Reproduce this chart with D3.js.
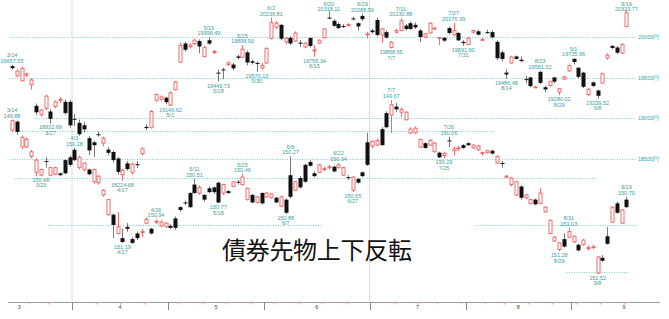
<!DOCTYPE html>
<html>
<head>
<meta charset="utf-8">
<script src="https://cdn.jsdelivr.net/npm/d3@7"></script>
<style>
  body { margin: 0; background: #fff; }
  svg { display: block; }
</style>
</head>
<body>
<div id="chart"></div>
<script>
// trading days, 2017
const dates = [
  '3/14','3/15','3/16','3/17','3/21','3/22','3/23','3/24','3/27','3/28','3/29','3/30','3/31',
  '4/3','4/4','4/5','4/6','4/7','4/10','4/11','4/12','4/13','4/14','4/17','4/18','4/19','4/20','4/21','4/24','4/25','4/26','4/27','4/28',
  '5/1','5/2','5/8','5/9','5/10','5/11','5/12','5/15','5/16','5/17','5/18','5/19','5/22','5/23','5/24','5/25','5/26','5/29','5/30','5/31',
  '6/1','6/2','6/5','6/6','6/7','6/8','6/9','6/12','6/13','6/14','6/15','6/16','6/19','6/20','6/21','6/22','6/23','6/26','6/27','6/28','6/29','6/30',
  '7/3','7/4','7/5','7/6','7/7','7/10','7/11','7/12','7/13','7/14','7/18','7/19','7/20','7/21','7/24','7/25','7/26','7/27','7/28','7/31',
  '8/1','8/2','8/3','8/4','8/7','8/8','8/9','8/10','8/14','8/15','8/16','8/17','8/18','8/21','8/22','8/23','8/24','8/25','8/28','8/29','8/30','8/31',
  '9/1','9/4','9/5','9/6','9/7','9/8','9/11','9/12','9/13','9/14','9/15','9/19'
];

// Nikkei 225 [open, high, low, close]
const nikkei = [
  [19640,19657.55,19600,19615],[19520,19600,19500,19580],[19460,19630,19450,19610],[19530,19560,19505,19545],
  [19410,19490,19350,19470],[19150,19180,19040,19070],[19040,19110,19020,19100],[19120,19290,19100,19270],
  [19080,19110,18932.69,18990],[19140,19220,19120,19200],[19220,19260,19190,19230],[19200,19230,19040,19060],
  [19200,19220,18880,18910],
  [18990,19050,18900,18980],[18940,18980,18780,18800],[18910,18950,18820,18860],[18750,18780,18540,18600],
  [18700,18720,18520,18665],[18800,18830,18770,18797],[18690,18770,18650,18750],[18610,18640,18540,18570],
  [18580,18600,18450,18480],[18500,18520,18300,18335],[18300,18370,18224.68,18355],[18440,18470,18350,18370],
  [18330,18450,18300,18430],[18430,18470,18380,18425],[18560,18640,18540,18620],[18890,18920,18850,18875],
  [18880,19100,18870,19080],[19220,19300,19200,19290],[19230,19280,19210,19260],[19250,19260,19170,19196],
  [19160,19330,19146.62,19310],[19350,19460,19340,19445],[19690,19930,19680,19895],[19920,19940,19820,19843],
  [19880,19920,19860,19900],[19920,19980,19900,19961],[19950,19970,19800,19883],[19760,19890,19750,19869],
  [19960,19998.49,19900,19919],[19810,19840,19790,19820],[19560,19600,19449.73,19553],[19600,19620,19480,19590],
  [19660,19700,19640,19680],[19660,19680,19590,19613],[19760,19780,19720,19742],[19750,19898.93,19740,19850],
  [19810,19830,19650,19686],[19700,19720,19660,19682],[19680,19700,19570.13,19677],[19620,19680,19600,19650],
  [19680,19870,19670,19860],[19980,20239.81,19970,20177],[20120,20200,20100,20170],[20150,20160,19960,19979],
  [19940,20000,19910,19984],[19990,20010,19900,19920],[19950,20070,19940,20050],[19930,19960,19880,19925],
  [19875,19940,19860,19925],[19988,20000,19870,19890],[19830,19900,19756.34,19840],[19925,19970,19910,19960],
  [19990,20110,19980,20100],[20240,20318.11,20220,20230],[20200,20220,20120,20138],[20160,20180,20100,20110],
  [20135,20160,20110,20132],[20140,20170,20130,20155],[20230,20250,20200,20225],[20170,20180,20080,20130],
  [20260,20288.59,20200,20220],[20030,20060,19980,20040],
  [20080,20100,20040,20060],[20210,20240,20010,20025],[20025,20110,19930,20100],[20060,20080,19980,19994],
  [19870,19950,19858.65,19935],[20060,20100,20040,20080],[20080,20230.88,20070,20200],[20140,20160,20080,20098],
  [20170,20190,20090,20099],[20150,20180,20100,20118],[20080,20100,19940,20000],[20000,20050,19980,20040],
  [20050,20180,20040,20170],[20100,20120,20090,20110],[19990,20000,19900,19995],[19990,20000,19940,19955],
  [20110,20130,20030,20050],[20025,20176.39,20010,20079],[20050,20060,19950,19959],[19940,19960,19891.90,19925],
  [19905,20000,19900,19985],[20060,20090,20040,20080],[20070,20090,20020,20029],[19960,19990,19950,19970],
  [20060,20090,20040,20055],[20060,20080,19980,19996],[19940,19960,19720,19738],[19810,19830,19700,19729],
  [19560,19600,19486.48,19537],[19680,19770,19670,19753],[19760,19770,19720,19729],[19720,19760,19690,19702],
  [19480,19520,19430,19470],[19500,19510,19380,19393],[19380,19400,19370,19385],[19570,19581.32,19420,19434],
  [19380,19400,19320,19353],[19400,19460,19390,19452],[19500,19510,19430,19449],[19320,19370,19280.02,19362],
  [19480,19520,19470,19506],[19580,19660,19570,19646],
  [19730,19735.96,19660,19691],[19620,19630,19490,19508],[19560,19570,19370,19385],[19290,19370,19270,19357],
  [19440,19450,19380,19396],[19340,19350,19239.52,19274],[19430,19560,19420,19545],[19740,19800,19720,19776],
  [19890,19900,19850,19865],[19870,19890,19790,19807],[19800,19920,19790,19909],[20130,20329.77,20120,20299]
];

// JGB futures [open, high, low, close], drawn upside down
const bond = [
  [149.89,150.01,149.88,149.99],[150.01,150.04,149.89,149.90],[150.07,150.19,150.05,150.17],[150.09,150.18,150.07,150.17],
  [150.22,150.29,150.20,150.27],[150.31,150.48,150.29,150.44],[150.41,150.48,150.40,150.47],[150.33,150.39,150.28,150.32],
  [150.39,150.48,150.38,150.47],[150.39,150.47,150.38,150.46],[150.47,150.48,150.44,150.45],[150.45,150.46,150.30,150.31],
  [150.36,150.38,150.26,150.28],
  [150.31,150.32,150.18,150.20],[150.28,150.41,150.26,150.39],[150.34,150.43,150.33,150.41],[150.46,150.47,150.40,150.41],
  [150.41,150.56,150.40,150.54],[150.48,150.57,150.47,150.55],[150.63,150.70,150.62,150.68],[150.73,150.90,150.72,150.89],
  [151.00,151.14,150.88,150.89],[151.02,151.10,150.86,151.09],[151.18,151.19,151.04,151.14],[151.04,151.07,150.98,151.02],
  [151.19,151.20,151.13,151.15],[151.14,151.16,151.07,151.09],[151.07,151.13,151.04,151.08],[150.94,150.99,150.92,150.98],
  [151.09,151.10,151.03,151.04],[150.96,150.99,150.94,150.97],[150.97,151.02,150.95,151.01],[150.98,151.03,150.97,151.02],
  [151.03,151.04,150.99,151.01],[151.03,151.05,150.91,150.93],[150.84,150.86,150.80,150.81],[150.77,150.79,150.74,150.76],
  [150.81,150.82,150.65,150.66],[150.66,150.67,150.51,150.57],[150.60,150.68,150.58,150.66],[150.73,150.75,150.67,150.68],
  [150.65,150.66,150.59,150.61],[150.65,150.67,150.59,150.60],[150.76,150.77,150.54,150.55],[150.57,150.68,150.56,150.66],
  [150.66,150.67,150.63,150.64],[150.54,150.60,150.53,150.59],[150.55,150.57,150.52,150.54],[150.49,150.58,150.46,150.57],
  [150.61,150.74,150.60,150.73],[150.76,150.77,150.67,150.68],[150.70,150.77,150.69,150.76],[150.77,150.78,150.65,150.66],
  [150.66,150.71,150.65,150.70],[150.67,150.72,150.66,150.71],[150.76,150.77,150.70,150.71],[150.70,150.81,150.69,150.80],
  [150.87,150.88,150.72,150.73],[150.70,150.72,150.27,150.47],[150.54,150.64,150.53,150.63],[150.60,150.61,150.48,150.50],
  [150.54,150.55,150.35,150.36],[150.37,150.38,150.31,150.33],[150.48,150.49,150.43,150.45],[150.36,150.45,150.35,150.44],
  [150.40,150.43,150.38,150.41],[150.38,150.41,150.36,150.39],[150.43,150.44,150.37,150.38],[150.36,150.40,150.34,150.39],
  [150.39,150.48,150.38,150.47],[150.50,150.52,150.47,150.49],[150.49,150.65,150.48,150.63],[150.55,150.56,150.50,150.51],
  [150.48,150.49,150.43,150.44],[150.36,150.37,150.02,150.12],
  [150.11,150.18,150.10,150.16],[150.10,150.16,150.08,150.15],[150.15,150.16,149.96,149.98],[149.96,149.97,149.79,149.81],
  [149.72,150.02,149.67,149.83],[149.77,149.80,149.70,149.74],[149.77,149.85,149.75,149.80],[149.80,149.89,149.79,149.88],
  [149.98,150.03,149.96,150.02],[149.97,150.03,149.95,150.02],[150.09,150.18,150.08,150.17],[150.18,150.19,150.12,150.13],
  [150.10,150.16,150.09,150.15],[150.13,150.23,150.12,150.22],[150.28,150.29,150.22,150.23],[150.24,150.29,150.22,150.26],
  [150.11,150.17,150.06,150.10],[150.19,150.26,150.17,150.21],[150.18,150.21,150.16,150.19],[150.18,150.19,150.14,150.15],
  [150.15,150.16,150.12,150.13],[150.15,150.19,150.14,150.18],[150.16,150.21,150.15,150.20],[150.23,150.26,150.22,150.24],
  [150.21,150.24,150.20,150.23],[150.24,150.25,150.20,150.21],[150.27,150.35,150.26,150.34],[150.35,150.39,150.32,150.34],
  [150.48,150.50,150.47,150.49],[150.50,150.59,150.49,150.57],[150.54,150.69,150.53,150.68],[150.71,150.73,150.58,150.59],
  [150.68,150.72,150.67,150.71],[150.73,150.78,150.72,150.77],[150.78,150.79,150.72,150.73],[150.66,150.78,150.61,150.77],
  [150.81,150.87,150.80,150.86],[150.95,151.10,150.94,151.09],[151.13,151.18,151.12,151.17],[151.19,151.28,151.18,151.26],
  [151.23,151.24,151.09,151.15],[151.07,151.14,151.03,151.13],
  [151.12,151.19,151.11,151.18],[151.27,151.28,151.20,151.21],[151.16,151.22,151.15,151.21],[151.24,151.27,151.22,151.25],
  [151.23,151.26,151.21,151.24],[151.34,151.52,151.33,151.51],[151.38,151.39,151.32,151.35],[151.20,151.21,151.02,151.12],
  [150.81,150.98,150.80,150.97],[150.87,150.88,150.75,150.77],[150.84,150.99,150.83,150.98],[150.81,150.82,150.70,150.73]
];

// annotated extremes: [date, 'hi' | 'lo']
const nikkeiNotes = [
  ['3/14','hi'],['3/27','lo'],['4/17','lo'],['5/1','lo'],['5/16','hi'],['5/18','lo'],['5/25','hi'],['5/30','lo'],
  ['6/2','hi'],['6/15','lo'],['6/20','hi'],['6/29','hi'],['7/7','lo'],['7/11','hi'],['7/27','hi'],['7/31','lo'],
  ['8/14','lo'],['8/23','hi'],['8/29','lo'],['9/1','hi'],['9/8','lo'],['9/19','hi']
];
const bondNotes = [
  ['3/14','lo'],['3/23','hi'],['4/3','lo'],['4/17','hi'],['4/26','lo'],['5/11','lo'],['5/18','hi'],['5/25','lo'],
  ['6/7','hi'],['6/8','lo'],['6/22','lo'],['6/27','hi'],['7/7','lo'],['7/25','hi'],['7/26','lo'],['8/29','hi'],
  ['8/31','lo'],['9/8','hi'],['9/19','lo']
];

// reference levels
const nikkeiLevels = [[20000,'3/14'],[19500,'3/14'],[19000,'3/22'],[18500,'3/14']];
const bondLevels = [[150.0,'3/14','8/8'],[150.5,'3/15','9/7'],[151.0,'3/27','6/16'],[151.0,'8/3',null],[151.5,'8/31','9/19']];
const monthNames = ['3','4','5','6','7','8','9'];
const title = '債券先物上下反転';

const W = 669, H = 319;
const RED = '#f06c6c', TEAL = '#3a9e9e';

const svg = d3.select('#chart').append('svg')
    .attr('width', W)
    .attr('height', H)
    .style('font-family', '"Liberation Sans", Arial, sans-serif');

const x = d3.scaleBand().domain(dates).range([9.6, 628.8]);
const step = x.step();
const cx = d => x(d) + step / 2;
const yN = d3.scaleLinear().domain([18000, 20000]).range([199, 37]);
const yB = d3.scaleLinear().domain([150, 151.5]).range([131, 272]);
const lineEnd = 636;
const axisY = 302;

// quarter separators
const month = d => d.split('/')[0];
const quarterStarts = dates.filter((d, i) => i > 0 && ['4', '7'].includes(month(d)) && month(dates[i - 1]) !== month(d));
svg.selectAll('.qline')
    .data(quarterStarts)
    .enter()
    .append('line')
    .attr('x1', d => x(d)).attr('x2', d => x(d))
    .attr('y1', 0).attr('y2', axisY)
    .attr('stroke', '#bdbdbd')
    .attr('stroke-dasharray', '1,1');

// level lines
svg.selectAll('.nlevel')
    .data(nikkeiLevels)
    .enter()
    .append('line')
    .attr('x1', d => x(d[1])).attr('x2', lineEnd)
    .attr('y1', d => Math.round(yN(d[0])) + 0.5).attr('y2', d => Math.round(yN(d[0])) + 0.5)
    .attr('stroke', '#7ccccc')
    .attr('stroke-dasharray', '1,1.5');

svg.selectAll('.nlabel')
    .data(nikkeiLevels)
    .enter()
    .append('text')
    .attr('x', lineEnd + 2)
    .attr('y', d => yN(d[0]) + 2)
    .attr('fill', TEAL)
    .attr('font-size', '5.5px')
    .text(d => d[0] + '円');

svg.selectAll('.blevel')
    .data(bondLevels)
    .enter()
    .append('line')
    .attr('x1', d => x(d[1]))
    .attr('x2', d => d[2] ? x(d[2]) + step : lineEnd)
    .attr('y1', d => Math.round(yB(d[0])) + 0.5).attr('y2', d => Math.round(yB(d[0])) + 0.5)
    .attr('stroke', '#7ccccc')
    .attr('stroke-dasharray', '1,1.5');

// axis
const monthStarts = dates.filter((d, i) => i > 0 && month(d) !== month(dates[i - 1]));
const weekStarts = dates.filter((d, i) => {
    if (i === 0 || month(d) !== month(dates[i - 1])) return false;
    const a = new Date('2017/' + dates[i - 1]), b = new Date('2017/' + d);
    return b.getDay() < a.getDay() || (b - a) > 3 * 864e5 + 1;
});

const axis = svg.append('g');
axis.append('line')
    .attr('x1', 8).attr('x2', 660)
    .attr('y1', axisY + 0.5).attr('y2', axisY + 0.5)
    .attr('stroke', '#9a9a9a');
axis.selectAll('.mtick')
    .data(monthStarts)
    .enter()
    .append('line')
    .attr('x1', d => Math.round(x(d)) + 0.5).attr('x2', d => Math.round(x(d)) + 0.5)
    .attr('y1', axisY).attr('y2', axisY + 8)
    .attr('stroke', '#888');
axis.selectAll('.wtick')
    .data(weekStarts)
    .enter()
    .append('line')
    .attr('x1', d => Math.round(x(d)) + 0.5).attr('x2', d => Math.round(x(d)) + 0.5)
    .attr('y1', axisY).attr('y2', axisY + 2.5)
    .attr('stroke', '#f4a0a0');

// month label centres: between month boundaries, partial months assume 22 sessions
const bounds = monthStarts.map(d => x(d));
const monthPos = monthNames.map((m, i) => {
    const left = i === 0 ? bounds[0] - 22 * step : bounds[i - 1];
    const right = i < bounds.length ? bounds[i] : bounds[i - 1] + 22 * step;
    return (left + right) / 2;
});
axis.selectAll('.mlabel')
    .data(monthNames)
    .enter()
    .append('text')
    .attr('x', (d, i) => monthPos[i])
    .attr('y', axisY + 6.5)
    .attr('text-anchor', 'middle')
    .attr('font-size', '5.5px')
    .attr('fill', '#444')
    .text(d => d);

// candles
function drawCandles(rows, y, cls) {
    const g = svg.append('g').attr('class', cls);
    const items = rows.map((r, i) => ({ date: dates[i], o: r[0], h: r[1], l: r[2], c: r[3] }));
    const up = d => d.c >= d.o;

    g.selectAll('.wick')
        .data(items)
        .enter()
        .append('line')
        .attr('x1', d => Math.round(cx(d.date)) + 0.5)
        .attr('x2', d => Math.round(cx(d.date)) + 0.5)
        .attr('y1', d => y(d.h))
        .attr('y2', d => y(d.l))
        .attr('stroke', d => up(d) ? RED : '#777');

    g.selectAll('.body')
        .data(items)
        .enter()
        .append('rect')
        .attr('x', d => Math.round(cx(d.date)) - (up(d) ? 1 : 1.5))
        .attr('width', d => up(d) ? 3 : 4)
        .attr('y', d => Math.min(y(d.o), y(d.c)))
        .attr('height', d => Math.max(1, Math.abs(y(d.o) - y(d.c))))
        .attr('fill', d => up(d) ? '#fff' : '#111')
        .attr('stroke', d => up(d) ? RED : 'none')
        .attr('stroke-width', 1);
    return items;
}

const nItems = drawCandles(nikkei, yN, 'nikkei');
const bItems = drawCandles(bond, yB, 'bond');

// extreme annotations
function drawNotes(notes, items, y, inverted) {
    const byDate = new Map(items.map(d => [d.date, d]));
    const g = svg.append('g');
    notes.forEach(([date, kind]) => {
        const d = byDate.get(date);
        const v = kind === 'hi' ? d.h : d.l;
        const py = y(v);
        const above = inverted ? kind === 'lo' : kind === 'hi';
        let valueY = above ? py - 2 : py + 6;
        let dateY = above ? py - 7.5 : py + 11.3;
        const top = Math.min(valueY, dateY);
        if (top < 5.5) { valueY += 5.5 - top; dateY += 5.5 - top; }
        const t = g.append('g').attr('fill', TEAL).attr('font-size', '5.5px').attr('text-anchor', 'middle');
        t.append('text').attr('x', cx(date)).attr('y', valueY).text(v.toFixed(2));
        t.append('text').attr('x', cx(date)).attr('y', dateY).text(date);
    });
}
drawNotes(nikkeiNotes, nItems, yN, false);
drawNotes(bondNotes, bItems, yB, true);

// caption
svg.append('text')
    .attr('x', 222)
    .attr('y', 259)
    .attr('font-family', '"Noto Sans CJK JP", sans-serif')
    .attr('font-size', '24px')
    .attr('letter-spacing', '-0.3px')
    .attr('fill', '#111')
    .text(title);
</script>
</body>
</html>
